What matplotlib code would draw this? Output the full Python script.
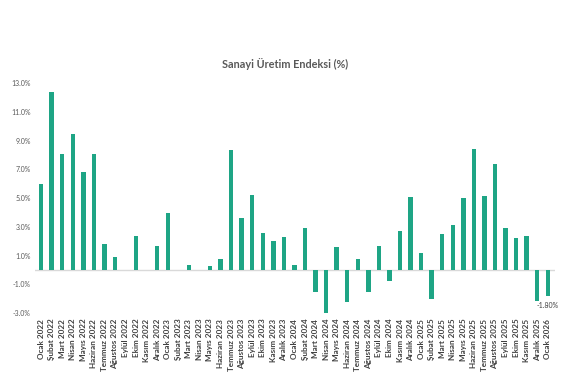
import matplotlib
matplotlib.use("Agg")
import matplotlib.pyplot as plt
import numpy as np

months = ["Ocak", "Şubat", "Mart", "Nisan", "Mayıs", "Haziran", "Temmuz",
          "Ağustos", "Eylül", "Ekim", "Kasım", "Aralık"]
labels = [f"{m} {y}" for y in (2022, 2023, 2024, 2025) for m in months] + ["Ocak 2026"]

values_2022 = [6.0, 12.4, 8.05, 9.45, 6.8, 8.1, 1.8, 0.9, 0.0, 2.4, 0.0, 1.7]
values_2023 = [4.0, 0.0, 0.35, 0.0, 0.25, 0.75, 8.35, 3.6, 5.2, 2.6, 2.0, 2.3]
values_2024 = [0.35, 2.9, -1.55, -3.1, 1.6, -2.25, 0.75, -1.55, 1.7, -0.75, 2.7, 5.1]
values_2025 = [1.2, -2.0, 2.5, 3.15, 5.0, 8.45, 5.15, 7.35, 2.95, 2.2, 2.35, -2.15]
values_2026 = [-1.80]
values = values_2022 + values_2023 + values_2024 + values_2025 + values_2026

yticks = [-3.0, -1.0, 1.0, 3.0, 5.0, 7.0, 9.0, 11.0, 13.0]

plt.rcParams['font.family'] = ['Lato', 'DejaVu Sans']

fig = plt.figure(figsize=(5.7, 3.9), dpi=100)
ax = fig.add_axes([0.061, 0.197, 0.913, 0.590])

x = np.arange(len(values))
color = "#1ea585"
ax.bar(x, values, width=0.42, color=color, zorder=3)
ax.axhline(0, color="#d9d9d9", linewidth=1.0, zorder=2)

ax.set_ylim(-3.0, 13.0)
ax.set_xlim(-0.6, len(values) - 0.3)
ax.set_yticks(yticks)
ax.set_yticklabels([f"{t:.1f}%" for t in yticks], fontsize=5, color="#595959")
ax.set_xticks(x)
ax.set_xticklabels(labels, rotation=90, fontsize=5.9, color="#404040", fontweight="bold")
ax.tick_params(axis="both", length=0, pad=3)
ax.tick_params(axis="x", pad=4)
for s in ax.spines.values():
    s.set_visible(False)

ax.text(x[-1], values[-1] - 0.45, f"{values[-1]:.2f}%", ha="center", va="top",
        fontsize=5, color="#404040")

fig.text(0.5, 0.835, "Sanayi Üretim Endeksi (%)", ha="center", va="center",
         fontsize=7.8, color="#595959", fontweight="bold")

fig.savefig("out.png", dpi=100, facecolor="white")
